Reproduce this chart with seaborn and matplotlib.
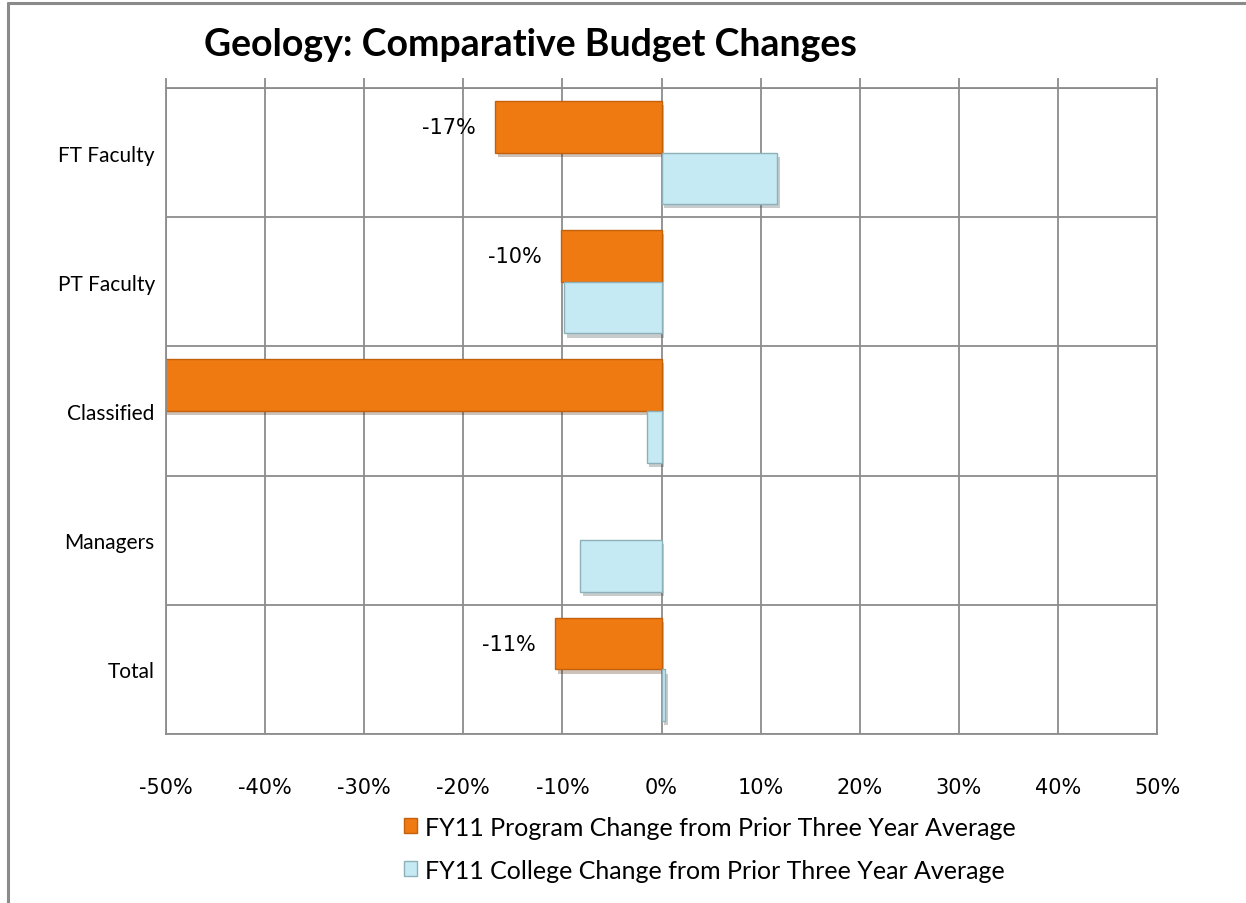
import numpy as np
import pandas as pd
import matplotlib
matplotlib.use("Agg")
import matplotlib.pyplot as plt
import matplotlib.patheffects as pe
from matplotlib.patches import Patch
from matplotlib.ticker import PercentFormatter, MultipleLocator
import seaborn as sns

# data
categories = ['FT Faculty', 'PT Faculty', 'Classified', 'Managers', 'Total']
program_change = [-0.168, -0.101, -0.62, np.nan, -0.107]
college_change = [0.117, -0.098, -0.015, -0.082, 0.004]
series_names = ['FY11 Program Change from Prior Three Year Average',
                'FY11 College Change from Prior Three Year Average']

df = pd.DataFrame({
    'category': categories * 2,
    'change': program_change + college_change,
    'series': [series_names[0]] * 5 + [series_names[1]] * 5,
})

sns.set_theme(style='white')
plt.rcParams['font.family'] = ['Lato', 'DejaVu Sans']
plt.rcParams['axes.unicode_minus'] = False
plt.rcParams['text.color'] = 'black'
plt.rcParams['xtick.labelcolor'] = 'black'
plt.rcParams['ytick.labelcolor'] = 'black'

orange = '#F07A12'
orange_edge = '#C2600C'
blue = '#C5EAF3'
blue_edge = '#8DB0B9'

fig = plt.figure(figsize=(12.46, 9.04), dpi=100)
ax = fig.add_axes([0.1332, 0.1869, 0.9286 - 0.1332, 0.9016 - 0.1869])

sns.barplot(data=df, y='category', x='change', hue='series', order=categories,
            hue_order=series_names, palette=[orange, blue], orient='h',
            width=0.8, ax=ax, legend=False, saturation=1, errorbar=None)

edges = [orange_edge, blue_edge]
for cont, ec in zip(ax.containers, edges):
    for p in cont:
        p.set_edgecolor(ec)
        p.set_linewidth(1.0)
        p.set_path_effects([pe.SimplePatchShadow(offset=(2, -3), alpha=0.28),
                            pe.Normal()])

ax.set_xlim(-0.5, 0.5)
ax.set_ylim(4.5, -0.5)
ax.xaxis.set_major_locator(MultipleLocator(0.1))
ax.xaxis.set_major_formatter(PercentFormatter(1.0, decimals=0))
ax.yaxis.set_minor_locator(MultipleLocator(1.0, offset=0.5))
ax.set_axisbelow(True)
ax.grid(True, axis='x', which='major', color='#8C8C8C', linewidth=1.3)
ax.grid(True, axis='y', which='minor', color='#8C8C8C', linewidth=1.3)
ax.grid(False, axis='y', which='major')
for s in ax.spines.values():
    s.set_color('#8C8C8C')
    s.set_linewidth(1.3)

ax.tick_params(axis='x', which='major', top=True, bottom=False, labeltop=False,
               labelbottom=True, direction='out', length=7, width=1.3,
               color='#8C8C8C', pad=24, labelsize=15)
for t in ax.get_xticklabels():
    t.set_fontfamily('DejaVu Sans')
ax.tick_params(axis='y', which='both', left=False, right=False, labelsize=15,
               length=0, pad=8)
ax.set_xlabel('')
ax.set_ylabel('')

# data labels on the program bars that are inside the visible range
for p in ax.containers[0]:
    w = p.get_width()
    if np.isfinite(w) and w > -0.5 and w != 0:
        ax.annotate(f'{w * 100:.0f}%', (w, p.get_y() + p.get_height() / 2),
                    xytext=(-14, 0), textcoords='offset points', ha='right',
                    va='center', fontsize=15, family='DejaVu Sans', color='black')

fig.text(0.426, 0.950, 'Geology: Comparative Budget Changes', ha='center',
         va='center', fontsize=27, fontweight='bold')

handles = [Patch(facecolor=orange, edgecolor=orange_edge),
           Patch(facecolor=blue, edgecolor=blue_edge)]
fig.legend(handles, series_names, loc='center left', bbox_to_anchor=(0.316, 0.060),
           frameon=False, fontsize=18, handlelength=0.55, handleheight=0.55,
           handletextpad=0.3, labelspacing=0.8, borderaxespad=0)

# chart area border (left and top edges visible in reference)
fig.add_artist(plt.Line2D([8 / 1246, 8 / 1246], [0, 1 - 4 / 904],
                          transform=fig.transFigure, color='#8A8A8A', linewidth=2.2))
fig.add_artist(plt.Line2D([8 / 1246, 1], [1 - 4 / 904, 1 - 4 / 904],
                          transform=fig.transFigure, color='#8A8A8A', linewidth=2.2))

fig.savefig('out.png', dpi=100)
